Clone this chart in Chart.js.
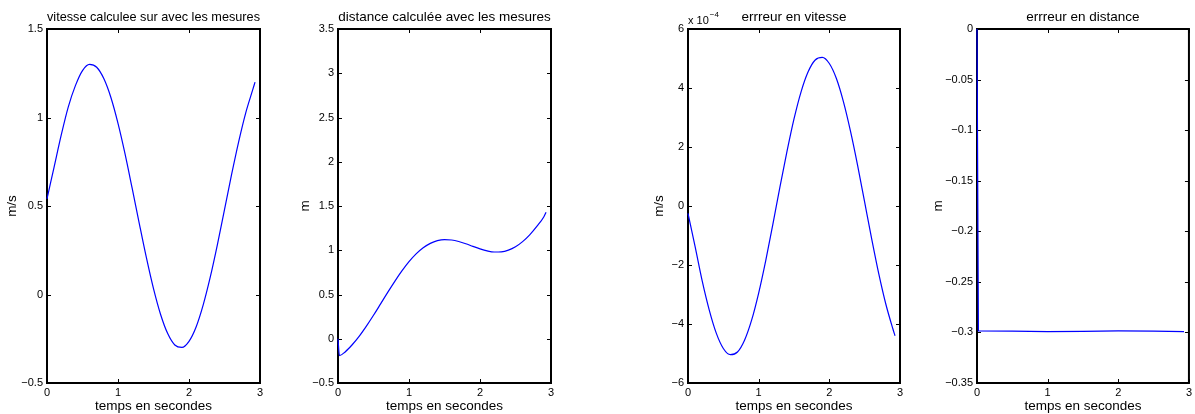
<!DOCTYPE html>
<html>
<head>
<meta charset="utf-8">
<script src="https://cdn.jsdelivr.net/npm/chart.js@4.4.0/dist/chart.umd.min.js"></script>
<style>
  html, body { margin: 0; padding: 0; background: #fff; }
  #figure { position: relative; width: 1195px; height: 414px; overflow: hidden; }
  .panneau { position: absolute; top: 0; height: 414px; }
</style>
</head>
<body>
<div id="figure">
  <div class="panneau" id="p1" style="left:4px;width:264px"><canvas id="c1"></canvas></div>
  <div class="panneau" id="p2" style="left:297px;width:262px"><canvas id="c2"></canvas></div>
  <div class="panneau" id="p3" style="left:651px;width:257px"><canvas id="c3"></canvas></div>
  <div class="panneau" id="p4" style="left:930px;width:265px"><canvas id="c4"></canvas></div>
</div>
<script>
// Données
const temps = [0, 0.1, 0.2, 0.3, 0.4, 0.5, 0.6, 0.7, 0.8, 0.9, 1.0, 1.1, 1.2, 1.3, 1.4, 1.5,
  1.6, 1.7, 1.8, 1.9, 2.0, 2.1, 2.2, 2.3, 2.4, 2.5, 2.6, 2.7, 2.8, 2.9, 2.93];
const vitesse = [0.54, 0.72, 0.90, 1.06, 1.18, 1.265, 1.30, 1.284, 1.22, 1.113, 0.967, 0.793,
  0.599, 0.401, 0.208, 0.033, -0.113, -0.221, -0.285, -0.299, -0.265, -0.184, -0.059, 0.099,
  0.282, 0.480, 0.678, 0.864, 1.028, 1.160, 1.20];

const tempsDistance = [0, 0.02, 0.1, 0.2, 0.3, 0.4, 0.5, 0.6, 0.7, 0.8, 0.9, 1.0, 1.1, 1.2, 1.3,
  1.4, 1.5, 1.6, 1.7, 1.8, 1.9, 2.0, 2.1, 2.2, 2.3, 2.4, 2.5, 2.6, 2.7, 2.8, 2.9, 2.93];
const distance = [0, -0.19, -0.149, -0.068, 0.030, 0.143, 0.265, 0.394, 0.524, 0.649, 0.766,
  0.871, 0.959, 1.028, 1.078, 1.109, 1.121, 1.116, 1.099, 1.074, 1.044, 1.016, 0.993, 0.980,
  0.982, 1.001, 1.039, 1.097, 1.174, 1.269, 1.379, 1.43];

// erreur en vitesse, en unités de 10^-4
const erreurVitesse = [-0.25, -1.37, -2.53, -3.52, -4.31, -4.83, -5.04, -4.95, -4.55, -3.87,
  -2.95, -1.85, -0.63, 0.63, 1.84, 2.95, 3.87, 4.55, 4.95, 5.04, 4.83, 4.32, 3.53, 2.53, 1.38,
  0.13, -1.12, -2.30, -3.33, -4.17, -4.40];

const tempsErreurDistance = [0, 0.02, 0.5, 1.0, 1.5, 2.0, 2.5, 2.93];
const erreurDistance = [0, -0.2985, -0.2988, -0.2992, -0.2990, -0.2985, -0.2987, -0.2993];

const ticksTemps = [0, 1, 2, 3];

const POLICE = '"Liberation Sans", Arial, Helvetica, sans-serif';
const BLEU = '#0000ff';

// Format des graduations (signe moins typographique)
function formatTick(value) {
  const s = String(Math.round(value * 1000) / 1000);
  return s.replace('-', '\u2212');
}

// Cadre complet + graduations vers l'intérieur (style MATLAB), dessiné sous les courbes
const cadre = {
  id: 'cadre',
  beforeDatasetsDraw(chart, args, opts) {
    const { ctx, chartArea: a, scales } = chart;
    ctx.save();
    ctx.strokeStyle = '#000';
    ctx.lineWidth = 1;
    const trait = (x1, y1, x2, y2) => {
      ctx.beginPath(); ctx.moveTo(x1, y1); ctx.lineTo(x2, y2); ctx.stroke();
    };
    scales.x.ticks.forEach(t => {
      const px = Math.round(scales.x.getPixelForValue(t.value)) + 0.5;
      trait(px, a.bottom, px, a.bottom - 4);
      trait(px, a.top, px, a.top + 4);
    });
    scales.y.ticks.forEach(t => {
      const py = Math.round(scales.y.getPixelForValue(t.value)) + 0.5;
      trait(a.left, py, a.left + 4, py);
      trait(a.right, py, a.right - 4, py);
    });
    ctx.lineWidth = 2;
    ctx.strokeRect(a.left, a.top, a.right - a.left, a.bottom - a.top);

    if (opts.exposant) {
      ctx.fillStyle = '#000';
      ctx.textBaseline = 'alphabetic';
      ctx.textAlign = 'left';
      ctx.font = '11px ' + POLICE;
      ctx.fillText('x 10', a.left, a.top - 5);
      const w = ctx.measureText('x 10').width;
      ctx.font = '8px ' + POLICE;
      ctx.fillText(opts.exposant, a.left + w + 1, a.top - 12);
    }
    ctx.restore();
  }
};

function tracer(id, cfg) {
  return new Chart(document.getElementById(id), {
    type: 'line',
    data: {
      datasets: [{
        data: cfg.x.map((t, i) => ({ x: t, y: cfg.y[i] })),
        borderColor: BLEU,
        borderWidth: 1.2,
        pointRadius: 0,
        cubicInterpolationMode: cfg.lisse ? 'monotone' : 'default',
        tension: 0,
        fill: false,
        clip: 2
      }]
    },
    options: {
      responsive: true,
      maintainAspectRatio: false,
      animation: false,
      layout: { padding: { left: 0, right: cfg.droite, top: 0, bottom: 0 } },
      plugins: {
        legend: { display: false },
        tooltip: { enabled: false },
        title: {
          display: true,
          text: cfg.titre,
          fullSize: false,
          color: '#000',
          font: { family: POLICE, size: 13.5, weight: 'normal' },
          padding: { top: 9.5, bottom: 3.3 }
        },
        cadre: { exposant: cfg.exposant || null }
      },
      scales: {
        x: {
          type: 'linear',
          min: 0,
          max: 3,
          afterBuildTicks: s => { s.ticks = ticksTemps.map(v => ({ value: v })); },
          ticks: { padding: 3, color: '#000', font: { family: POLICE, size: 11 }, callback: formatTick, maxRotation: 0 },
          grid: { display: false, drawTicks: false },
          border: { display: false },
          title: { display: true, text: 'temps en secondes', color: '#000', font: { family: POLICE, size: 13.5 }, padding: 0 },
          afterFit: s => { s.height = 31; }
        },
        y: {
          type: 'linear',
          min: cfg.min,
          max: cfg.max,
          ticks: { stepSize: cfg.pas, padding: 4, color: '#000', font: { family: POLICE, size: 11 }, callback: formatTick },
          grid: { display: false, drawTicks: false },
          border: { display: false },
          title: { display: true, text: cfg.unite, color: '#000', font: { family: POLICE, size: 13.5 }, padding: 0 },
          afterFit: s => { s.width = cfg.largeurAxe; }
        }
      }
    },
    plugins: [cadre]
  });
}

tracer('c1', {
  x: temps, y: vitesse, titre: 'vitesse calculee sur avec les mesures', unite: 'm/s',
  min: -0.5, max: 1.5, pas: 0.5, largeurAxe: 43, droite: 8, lisse: true
});
tracer('c2', {
  x: tempsDistance, y: distance, titre: 'distance calculée avec les mesures', unite: 'm',
  min: -0.5, max: 3.5, pas: 0.5, largeurAxe: 41, droite: 8, lisse: true
});
tracer('c3', {
  x: temps, y: erreurVitesse, titre: 'errreur en vitesse', unite: 'm/s',
  min: -6, max: 6, pas: 2, largeurAxe: 37, droite: 8, exposant: '\u22124', lisse: true
});
tracer('c4', {
  x: tempsErreurDistance, y: erreurDistance, titre: 'errreur en distance', unite: 'm',
  min: -0.35, max: 0, pas: 0.05, largeurAxe: 47, droite: 6, lisse: false
});
</script>
</body>
</html>
